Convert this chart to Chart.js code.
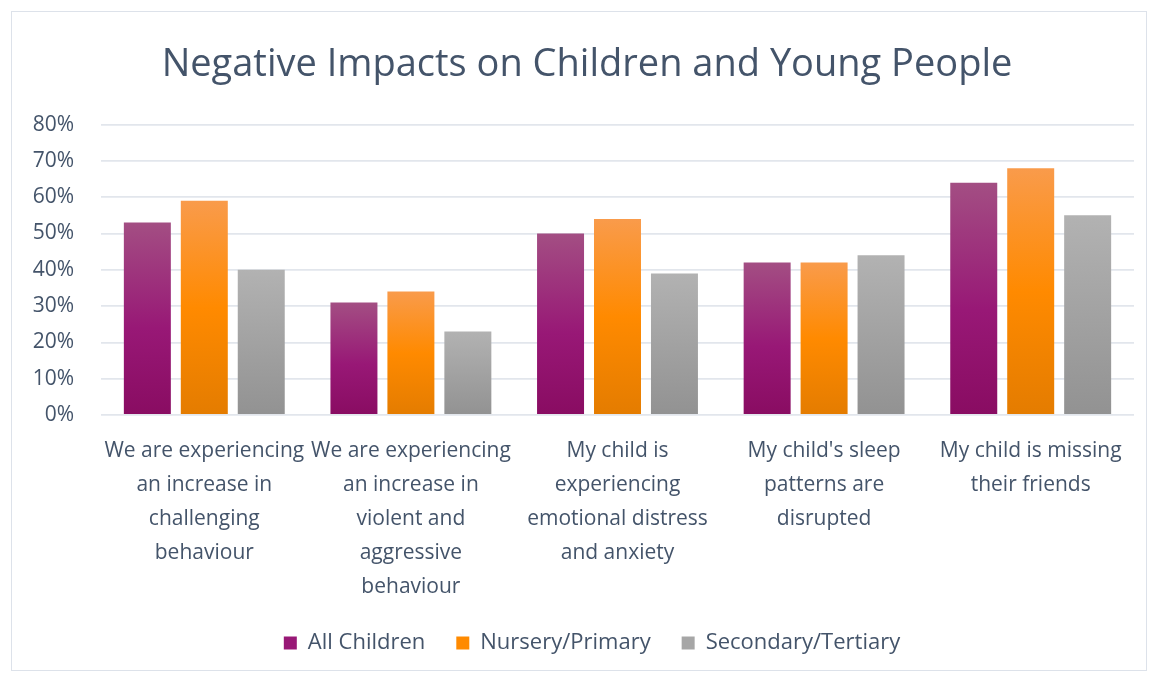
<!DOCTYPE html>
<html>
<head>
<meta charset="utf-8">
<script src="https://cdn.jsdelivr.net/npm/chart.js@4/dist/chart.umd.min.js"></script>
<style>
  html, body { margin: 0; padding: 0; background: #ffffff; }
  #frame {
    position: absolute; left: 11px; top: 11px;
    width: 1134px; height: 658px;
    border: 1.5px solid #DDE2EA; background: #fff;
  }
  #c { display: block; }
</style>
</head>
<body>
<div id="frame"><canvas id="c" width="1134" height="658"></canvas></div>
<script>
const categories = [
  ["We are experiencing", "an increase in", "challenging", "behaviour"],
  ["We are experiencing", "an increase in", "violent and", "aggressive", "behaviour"],
  ["My child is", "experiencing", "emotional distress", "and anxiety"],
  ["My child's sleep", "patterns are", "disrupted"],
  ["My child is missing", "their friends"]
];
const allChildren = [53, 31, 50, 42, 64];
const nurseryPrimary = [59, 34, 54, 42, 68];
const secondaryTertiary = [40, 23, 39, 44, 55];
const yTicks = [0, 10, 20, 30, 40, 50, 60, 70, 80];

const textColor = '#44546A';
const fontFamily = '"Open Sans", Lato, sans-serif';

// vertical gradient stops per series, painted from bar top to the baseline
const purpleStops = [[0, '#A34E83'], [0.55, '#981876'], [1, '#890C62']];
const orangeStops = [[0, '#F99B4B'], [0.5, '#FF8A00'], [1, '#E47C00']];
const grayStops = [[0, '#B2B2B2'], [1, '#929292']];

function barGradient(stops, fallback) {
  return function (ctx) {
    const chart = ctx.chart;
    const y = chart.scales && chart.scales.y;
    if (!chart.chartArea || !y || ctx.type !== 'data') return fallback;
    const top = y.getPixelForValue(ctx.raw);
    const bottom = y.getPixelForValue(0);
    if (!isFinite(top) || !isFinite(bottom) || bottom - top < 1) return fallback;
    const g = chart.ctx.createLinearGradient(0, top, 0, bottom);
    stops.forEach(s => g.addColorStop(s[0], s[1]));
    return g;
  };
}

// title and legend sit a little right of the canvas centre
const headerNudge = {
  id: 'headerNudge',
  afterLayout(chart) {
    if (chart.titleBlock) { chart.titleBlock.left += 6; chart.titleBlock.right += 6; }
    if (chart.legend) { chart.legend.left += 11; chart.legend.right += 11; }
  }
};

new Chart(document.getElementById('c'), {
  type: 'bar',
  plugins: [headerNudge],
  data: {
    labels: categories,
    datasets: [
      { label: 'All Children', data: allChildren, backgroundColor: barGradient(purpleStops, '#981876') },
      { label: 'Nursery/Primary', data: nurseryPrimary, backgroundColor: barGradient(orangeStops, '#FF8A00') },
      { label: 'Secondary/Tertiary', data: secondaryTertiary, backgroundColor: barGradient(grayStops, '#A6A6A6') }
    ]
  },
  options: {
    responsive: false,
    animation: false,
    layout: { padding: { left: 16, right: 12, top: 0, bottom: 6 } },
    datasets: { bar: { categoryPercentage: 0.827, barPercentage: 0.825 } },
    scales: {
      x: {
        grid: { display: false },
        border: { display: false },
        // long first/last labels may spill past the plot edges; fixed band height for the wrapped labels
        afterFit: s => { s.paddingLeft = 0; s.paddingRight = 0; s.height = 186; },
        ticks: {
          color: textColor,
          font: { family: fontFamily, size: 21, lineHeight: 1.62 },
          maxRotation: 0, autoSkip: false, padding: 11
        }
      },
      y: {
        min: 0, max: 80,
        afterBuildTicks: axis => { axis.ticks = yTicks.map(v => ({ value: v })); },
        afterFit: s => { s.width = 73; },
        grid: { color: '#E2E6EC', lineWidth: 1.8, drawTicks: false },
        border: { display: false },
        ticks: {
          color: textColor,
          font: { family: fontFamily, size: 21 },
          padding: 27,
          callback: v => v + '%'
        }
      }
    },
    plugins: {
      title: {
        display: true,
        text: 'Negative Impacts on Children and Young People',
        color: textColor,
        font: { family: fontFamily, size: 38, weight: 'normal' },
        padding: { top: 30, bottom: 37 }
      },
      legend: {
        position: 'bottom',
        labels: {
          color: textColor,
          font: { family: fontFamily, size: 22 },
          boxWidth: 13, boxHeight: 13, padding: 31,
          generateLabels: chart => chart.data.datasets.map((ds, i) => ({
            text: ds.label,
            fillStyle: ['#981876', '#FF8A00', '#A6A6A6'][i],
            strokeStyle: 'rgba(0,0,0,0)',
            lineWidth: 0,
            datasetIndex: i,
            fontColor: textColor
          }))
        }
      },
      tooltip: { enabled: false }
    }
  }
});
</script>
</body>
</html>
